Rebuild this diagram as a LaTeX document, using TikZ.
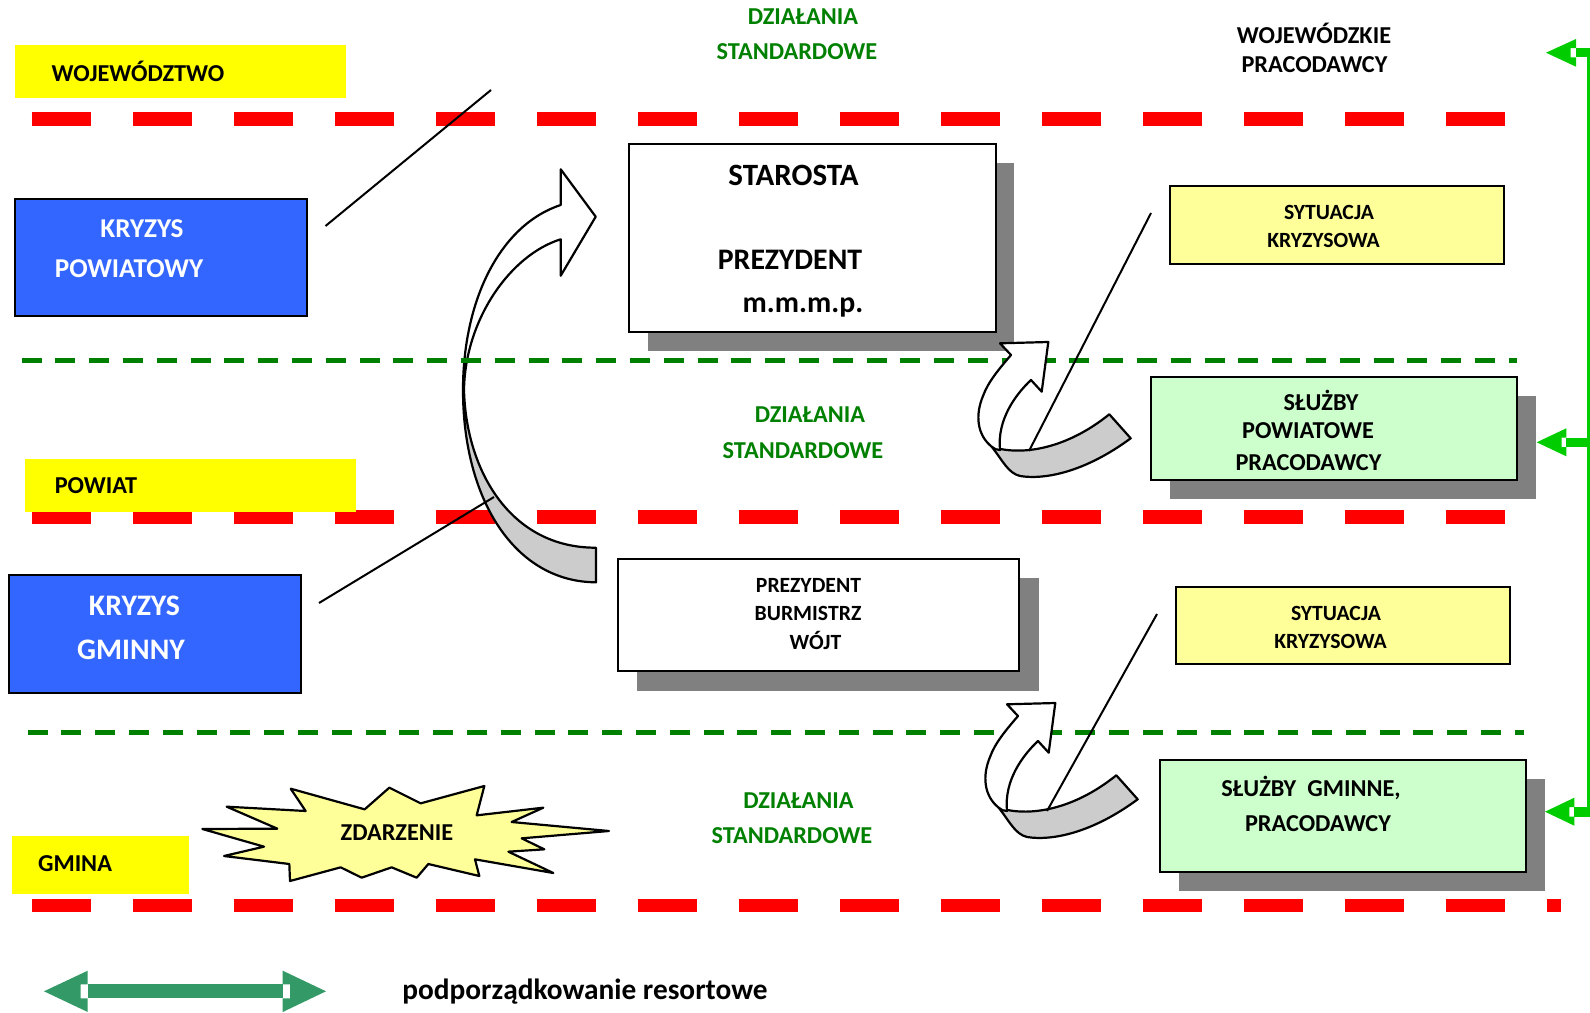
\documentclass[tikz,border=0pt]{standalone}
\usepackage{fontspec}
\setmainfont{Carlito}[BoldFont=Carlito Bold]
\definecolor{redline}{HTML}{FF0000}
\definecolor{greenline}{HTML}{008000}
\definecolor{lime}{HTML}{00CC00}
\definecolor{sea}{HTML}{339966}
\definecolor{kblue}{HTML}{3366FF}
\definecolor{pale}{HTML}{FFFF99}
\definecolor{mint}{HTML}{CCFFCC}
\definecolor{shade}{HTML}{808080}
\definecolor{foldgrey}{HTML}{CCCCCC}
\definecolor{lvlyellow}{HTML}{FFFF00}
\tikzset{
 x=0.5pt,y=-0.5pt,
 reddash/.style={draw=redline,line width=6.8pt,dash pattern=on 29.4pt off 21.1pt},
 greendash/.style={draw=greenline,line width=2.5pt,dash pattern=on 10pt off 6.9pt},
 lvl/.style={fill=lvlyellow},
 crisis/.style={fill=kblue,draw=black,line width=1pt},
 whitebox/.style={fill=white,draw=black,line width=1pt},
 palebox/.style={fill=pale,draw=black,line width=1pt},
 mintbox/.style={fill=mint,draw=black,line width=1pt},
 shadowbox/.style={fill=shade},
 fold/.style={draw=black,line width=1.1pt,line join=round},
 thin line/.style={draw=black,line width=1pt},
 txt/.style={font=\bfseries\fontsize{12.15}{14}\selectfont,inner sep=0pt,anchor=center},
 smalltxt/.style={txt,font=\bfseries\fontsize{10.85}{13}\selectfont},
 gtxt/.style={txt,text=greenline},
 wtxt/.style={txt,text=white,font=\bfseries\fontsize{13.6}{15}\selectfont},
 bigtxt/.style={txt,font=\bfseries\fontsize{14.9}{17}\selectfont},
 startxt/.style={txt,font=\bfseries\fontsize{15.5}{17}\selectfont},
 legendtxt/.style={txt,font=\bfseries\fontsize{14.67}{17}\selectfont},
 gbigtxt/.style={txt,text=white,font=\bfseries\fontsize{14.9}{17}\selectfont},
}
\newcommand{\foldarrow}{%
 \draw[fold,fill=foldgrey] (991.7,446.7) .. controls (1020,456) and (1065,450) .. (1109.3,414.3)
   -- (1130.7,438.3) .. controls (1085,472) and (1045,480) .. (1020,476)
   .. controls (1008,473) and (1003,461) .. cycle;
 \draw[fold,fill=white] (991.7,446.7) .. controls (977,435) and (975,415) .. (983,396)
   .. controls (988,382) and (999,369) .. (1011,355) -- (1000,343.3) -- (1048.3,342)
   -- (1041.7,391.7) -- (1031,380) .. controls (1015,395) and (997,420) .. (1000,450)
   .. controls (997,450) and (994,449) .. cycle;
}
\begin{document}
\begin{tikzpicture}
\useasboundingbox (0,0) rectangle (1590,1012);
% red level lines
\coordinate (ra1) at (31.7,119); \coordinate (ra2) at (1505,119);
\coordinate (rb1) at (31.7,517); \coordinate (rb2) at (1505,517);
\coordinate (rc1) at (31.7,905.5); \coordinate (rc2) at (1561,905.5);
\draw[reddash] (ra1) -- (ra2);
\draw[reddash] (rb1) -- (rb2);
\draw[reddash] (rc1) -- (rc2);
% big curved arrow
\draw[fold,fill=foldgrey] (463,390) .. controls (463,500) and (515,582) .. (596,582.3)
  -- (596,547.7) .. controls (510,548) and (466,470) .. (464,390) -- cycle;
\draw[fold,fill=white] (463,390) .. controls (463,300) and (500,225) .. (560.7,205)
  -- (560.7,169.3) -- (595.7,216.7) -- (560.7,275.7) -- (560.7,239.3)
  .. controls (510,255) and (465,320) .. (464,390) -- cycle;
% green dashed lines
\coordinate (ga1) at (21.5,360); \coordinate (ga2) at (1517,360);
\coordinate (gb1) at (27.5,732); \coordinate (gb2) at (1524,732);
\draw[greendash] (ga1) -- (ga2);
\draw[greendash] (gb1) -- (gb2);
% level labels
\fill[lvl] (15,45) rectangle (346,98);
\fill[lvl] (25,459) rectangle (356,512);
\fill[lvl] (12,836) rectangle (189,893.5);
% crisis boxes
\draw[crisis] (15,199) rectangle (307,316);
\draw[crisis] (8.7,575) rectangle (301,693);
% shadows and boxes
\fill[shadowbox] (648,162.5) rectangle (1014,351);
\draw[whitebox] (629,144) rectangle (995.5,332);
\fill[shadowbox] (637,577.5) rectangle (1039,691);
\draw[whitebox] (618,559) rectangle (1019,671);
\draw[palebox] (1169.5,186) rectangle (1504,264);
\draw[palebox] (1176,587) rectangle (1510,664);
\fill[shadowbox] (1170,395.5) rectangle (1536,499);
\draw[mintbox] (1151,377) rectangle (1517,480);
\fill[shadowbox] (1179,778.5) rectangle (1545,891);
\draw[mintbox] (1160,760) rectangle (1526,872);
% small fold arrows
\foldarrow
\begin{scope}[shift={(7,361)}]\foldarrow\end{scope}
% thin lines
\coordinate (la1) at (325.5,226); \coordinate (la2) at (491,90);
\coordinate (lb1) at (319,603); \coordinate (lb2) at (494,497);
\coordinate (lc1) at (1151,213); \coordinate (lc2) at (1029,451);
\coordinate (ld1) at (1157,614); \coordinate (ld2) at (1047,811);
\draw[thin line] (la1) -- (la2);
\draw[thin line] (lb1) -- (lb2);
\draw[thin line] (lc1) -- (lc2);
\draw[thin line] (ld1) -- (ld2);
% star
\begin{scope}[shift={(190,770)},scale=0.33333]
\draw[fold,fill=pale] (37,177) -- (262,176) -- (110,110) -- (347,123) -- (302,56) -- (524,118)
 -- (598,53) -- (692,100) -- (883,48) -- (860,136) -- (1060,113) -- (965,156) -- (1257,183)
 -- (995,205) -- (1063,238) -- (955,245) -- (1090,309) -- (855,268) -- (868,318) -- (715,282)
 -- (680,323) -- (605,292) -- (515,323) -- (452,292) -- (300,333) -- (298,282) -- (102,258)
 -- (222,230) -- cycle;
\end{scope}
% green hollow arrows
\fill[lime] (1546,52.7) -- (1576,39) -- (1576,48) -- (1570.7,48) -- (1570.7,57.3) -- (1576,57.3) -- (1576,66.7) -- cycle;
\fill[lime] (1576,48) rectangle (1590,57.3);
\fill[lime] (1587,48) rectangle (1590,817);
\fill[lime] (1536.7,442.3) -- (1566.3,428.3) -- (1566.3,437.7) -- (1561.7,437.7) -- (1561.7,447) -- (1566.3,447) -- (1566.3,456.3) -- cycle;
\fill[lime] (1566.3,437.7) rectangle (1587,447);
\fill[lime] (1545,811.7) -- (1574.3,797.7) -- (1574.3,807) -- (1569.3,807) -- (1569.3,816.7) -- (1574.3,816.7) -- (1574.3,825.7) -- cycle;
\fill[lime] (1574.3,807) rectangle (1587,816.7);
% legend arrow
\fill[sea] (44,991.3) -- (87.7,970.7) -- (87.7,984.3) -- (80.7,984.3) -- (80.7,998.3) -- (87.7,998.3) -- (87.7,1012) -- cycle;
\fill[sea] (87.7,984.3) rectangle (282.7,998.3);
\fill[sea] (326,991.3) -- (282.7,970.7) -- (282.7,984.3) -- (290,984.3) -- (290,998.3) -- (282.7,998.3) -- (282.7,1012) -- cycle;
% texts
\node[txt] (t1) at (138,71) {WOJEWÓDZTWO};
\node[gtxt] (t2) at (803,16.5) {DZIAŁANIA};
\node[gtxt] (t3) at (797,52) {STANDARDOWE};
\node[txt] (t4) at (1314,33) {WOJEWÓDZKIE};
\node[txt] (t5) at (1314.5,64.5) {PRACODAWCY};
\node[wtxt] (t6) at (142,229) {KRYZYS};
\node[wtxt] (t7) at (129,268.5) {POWIATOWY};
\node[startxt] (t8) at (793.5,175.5) {STAROSTA};
\node[bigtxt] (t9) at (790,260) {PREZYDENT};
\node[bigtxt] (t10) at (803,307) {m.m.m.p.};
\node[smalltxt] (t11) at (1329,212.5) {SYTUACJA};
\node[smalltxt] (t12) at (1323.5,240.5) {KRYZYSOWA};
\node[txt] (t13) at (1321,400) {SŁUŻBY};
\node[txt] (t14) at (1308,431) {POWIATOWE};
\node[txt] (t15) at (1308.5,463) {PRACODAWCY};
\node[gtxt] (t16) at (810,415) {DZIAŁANIA};
\node[gtxt] (t17) at (803,451) {STANDARDOWE};
\node[txt] (t18) at (96,486) {POWIAT};
\node[gbigtxt] (t19) at (134.5,606) {KRYZYS};
\node[gbigtxt] (t20) at (131,650) {GMINNY};
\node[smalltxt] (t21) at (808.5,585) {PREZYDENT};
\node[smalltxt] (t22) at (808,613) {BURMISTRZ};
\node[smalltxt] (t23) at (815.5,640) {WÓJT};
\node[smalltxt] (t24) at (1336,613) {SYTUACJA};
\node[smalltxt] (t25) at (1330.5,641) {KRYZYSOWA};
\node[gtxt] (t26) at (798.5,801) {DZIAŁANIA};
\node[gtxt] (t27) at (792,836) {STANDARDOWE};
\node[txt] (t28) at (1311,788) {SŁUŻBY~~GMINNE,};
\node[txt] (t29) at (1318,823.5) {PRACODAWCY};
\node[txt] (t30) at (397,833) {ZDARZENIE};
\node[txt] (t31) at (75,863.5) {GMINA};
\node[legendtxt] (t32) at (585,992) {podporządkowanie resortowe};
\end{tikzpicture}
\end{document}
